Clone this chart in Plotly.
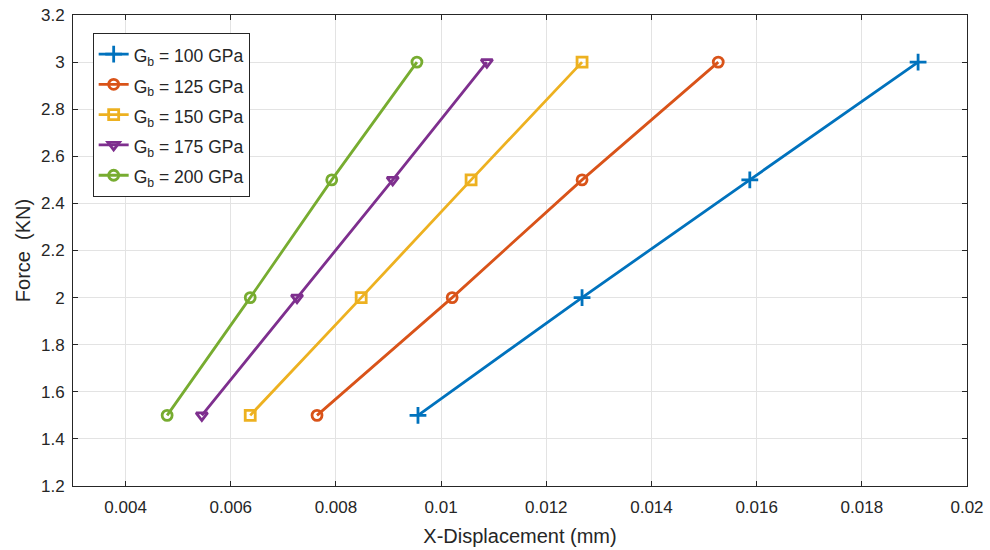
import plotly.graph_objects as go

force = [1.5, 2.0, 2.5, 3.0]
labels = ["G<sub>b</sub> = 100 GPa", "G<sub>b</sub> = 125 GPa", "G<sub>b</sub> = 150 GPa",
          "G<sub>b</sub> = 175 GPa", "G<sub>b</sub> = 200 GPa"]
disp_100 = [0.00956, 0.01268, 0.01587, 0.01907]
disp_125 = [0.00764, 0.01021, 0.01268, 0.01527]
disp_150 = [0.00637, 0.00848, 0.01057, 0.01268]
disp_175 = [0.00545, 0.00726, 0.00908, 0.01087]
disp_200 = [0.00479, 0.00637, 0.00792, 0.00954]
series = [disp_100, disp_125, disp_150, disp_175, disp_200]
colors = ["#0072BD", "#D95319", "#EDB120", "#7E2F8E", "#77AC30"]
symbols = ["cross-thin-open", "circle-open", "square-open", "triangle-down-open", "circle-open"]

FONT = "Liberation Sans, Arial"
TXT = "#262626"

fig = go.Figure()
for lab, xs, c, s in zip(labels, series, colors, symbols):
    fig.add_trace(go.Scatter(
        x=xs, y=force, mode="lines+markers",
        name='<span style="font-size:17.5px">' + lab + '</span>',
        line=dict(color=c, width=2.8),
        marker=dict(symbol=s, size=10 if s != "cross-thin-open" else 12,
                    color=c, line=dict(color=c, width=2.8)),
    ))

axis_common = dict(
    showgrid=True, gridcolor="#e3e3e3", gridwidth=1,
    showline=True, linecolor=TXT, linewidth=1, mirror="ticks",
    ticks="inside", ticklen=5, tickcolor=TXT,
    tickfont=dict(family=FONT, size=17, color=TXT),
    zeroline=False, automargin=False,
)
fig.update_xaxes(range=[0.003, 0.02], dtick=0.002, tick0=0.004, tickformat="~g",
                 ticklabelstandoff=6,
                 title=dict(text="X-Displacement (mm)", font=dict(family=FONT, size=20, color=TXT), standoff=12),
                 **axis_common)
fig.update_yaxes(range=[1.2, 3.2], dtick=0.2, tickformat="~g",
                 ticklabelstandoff=4,
                 title=dict(text="Force&nbsp; (KN)", font=dict(family=FONT, size=20, color=TXT), standoff=4),
                 **axis_common)
fig.update_layout(
    width=990, height=550,
    margin=dict(l=73, r=23, t=15, b=64),
    plot_bgcolor="white", paper_bgcolor="white",
    legend=dict(x=0.022, y=0.962, xanchor="left", yanchor="top",
                bgcolor="white", bordercolor=TXT, borderwidth=1,
                font=dict(family=FONT, size=21, color=TXT),
                tracegroupgap=0),
)
fig.write_html("out.html")
